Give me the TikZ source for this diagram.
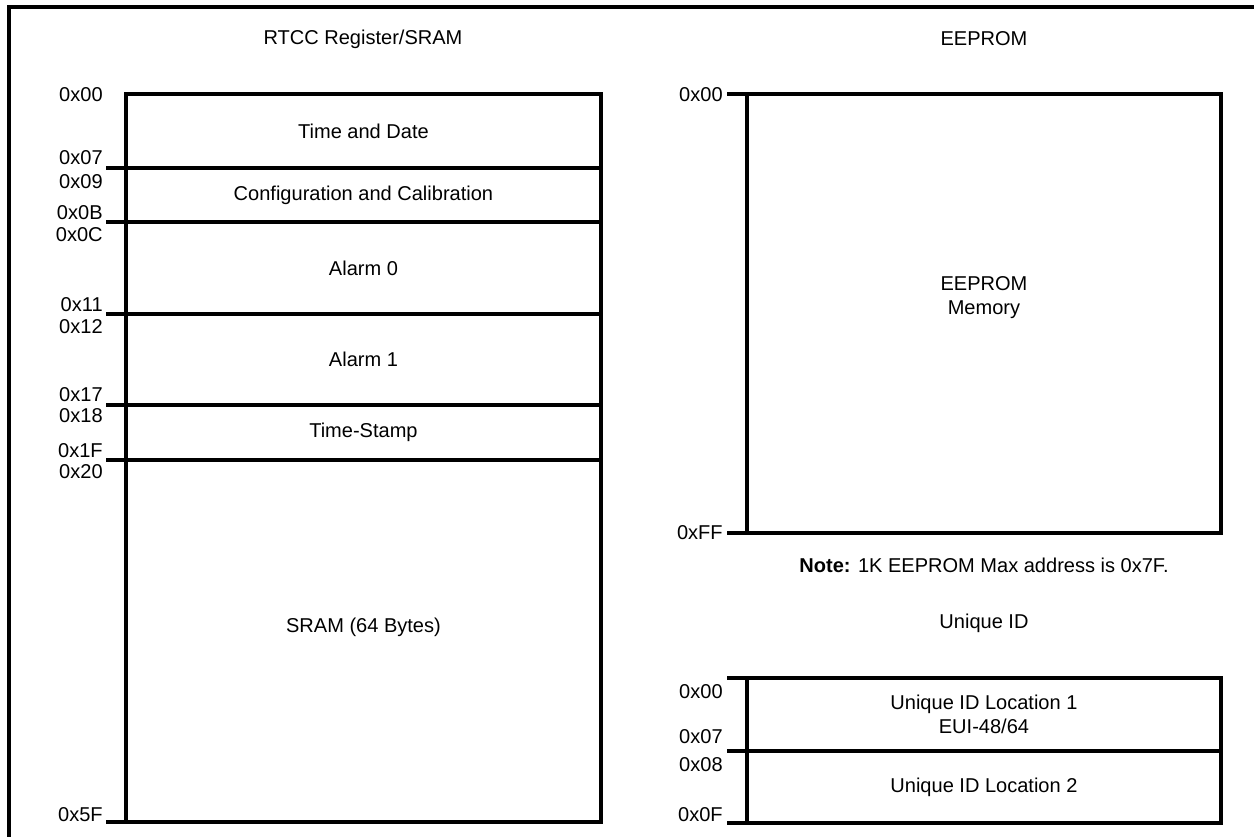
\documentclass[tikz,border=0pt]{standalone}
\usepackage{fontspec}
\setmainfont{Liberation Sans}
\usetikzlibrary{positioning}
\newcommand{\mapfont}{\fontsize{11.4}{14}\selectfont}
\tikzset{
    seg/.style={draw=black, line width=2pt, minimum width=9.5cm, inner sep=0pt,
                outer sep=0pt, align=center, font=\mapfont},
    useg/.style={seg, minimum width=9.48cm},
    tick/.style={line width=2pt, black},
    addr/.style={font=\mapfont, anchor=east, inner sep=0pt},
    ttl/.style={font=\mapfont, align=center, inner sep=0pt},
    frame/.style={line width=2pt, black},
}

\begin{document}
\begin{tikzpicture}[x=0.02cm, y=-0.02cm]
    \useasboundingbox (0,0) rectangle (1254,837);
    \draw[frame] (9,837) -- (9,7) -- (1254,7);

    % RTCC register / SRAM map
    \node[ttl] (rtcc) at (363,39) {RTCC Register/SRAM};
    \node[seg, minimum height=1.48cm, anchor=north west] (tad) at (126,94) {Time and Date};
    \node[seg, minimum height=1.08cm, below=0pt of tad] (cfg) {Configuration and Calibration};
    \node[seg, minimum height=1.84cm, below=0pt of cfg] (alm0) {Alarm 0};
    \node[seg, minimum height=1.82cm, below=0pt of alm0] (alm1) {Alarm 1};
    \node[seg, minimum height=1.10cm, below=0pt of alm1] (tst) {Time-Stamp};
    \node[seg, minimum height=7.24cm, below=0pt of tst,
          label={[font=\mapfont, yshift=0.28cm]center:SRAM (64 Bytes)}] (sram) {};
    \draw[tick] (tad.south west) -- ++(-20,0);
    \draw[tick] (cfg.south west) -- ++(-20,0);
    \draw[tick] (alm0.south west) -- ++(-20,0);
    \draw[tick] (alm1.south west) -- ++(-20,0);
    \draw[tick] (tst.south west) -- ++(-20,0);
    \draw[tick] (sram.south west) -- ++(-20,0);
    \node[addr] (r00) at (103,95) {0x00};
    \node[addr] (r07) at (103,158) {0x07};
    \node[addr] (r09) at (103,182) {0x09};
    \node[addr] (r0B) at (103,213) {0x0B};
    \node[addr] (r0C) at (103,235) {0x0C};
    \node[addr] (r11) at (103,305) {0x11};
    \node[addr] (r12) at (103,327) {0x12};
    \node[addr] (r17) at (103,395) {0x17};
    \node[addr] (r18) at (103,416) {0x18};
    \node[addr] (r1F) at (103,451) {0x1F};
    \node[addr] (r20) at (103,472) {0x20};
    \node[addr] (r5F) at (103,815) {0x5F};

    % EEPROM
    \node[ttl] (eetl) at (984,39) {EEPROM};
    \node[useg, minimum height=8.78cm, anchor=north west,
          label={[font=\mapfont, align=center, yshift=0.32cm]center:EEPROM\\Memory}] (eep) at (747,94) {};
    \draw[tick] (eep.north west) -- ++(-20,0);
    \draw[tick] (eep.south west) -- ++(-20,0);
    \node[addr] (e00) at (723,95) {0x00};
    \node[addr] (eFF) at (723,533) {0xFF};
    \node[ttl] (note) at (984,565) {\textbf{Note:} 1K EEPROM Max address is 0x7F.};

    % Unique ID
    \node[ttl] (uidt) at (984,623) {Unique ID};
    \node[useg, minimum height=1.46cm, anchor=north west] (uid1) at (747,678) {Unique ID Location 1\\EUI-48/64};
    \node[useg, minimum height=1.44cm, below=0pt of uid1] (uid2) {Unique ID Location 2};
    \draw[tick] (uid1.north west) -- ++(-20,0);
    \draw[tick] (uid1.south west) -- ++(-20,0);
    \draw[tick] (uid2.south west) -- ++(-20,0);
    \node[addr] (u00) at (723,692) {0x00};
    \node[addr] (u07) at (723,737) {0x07};
    \node[addr] (u08) at (723,765) {0x08};
    \node[addr] (u0F) at (723,815) {0x0F};
\end{tikzpicture}
\end{document}
